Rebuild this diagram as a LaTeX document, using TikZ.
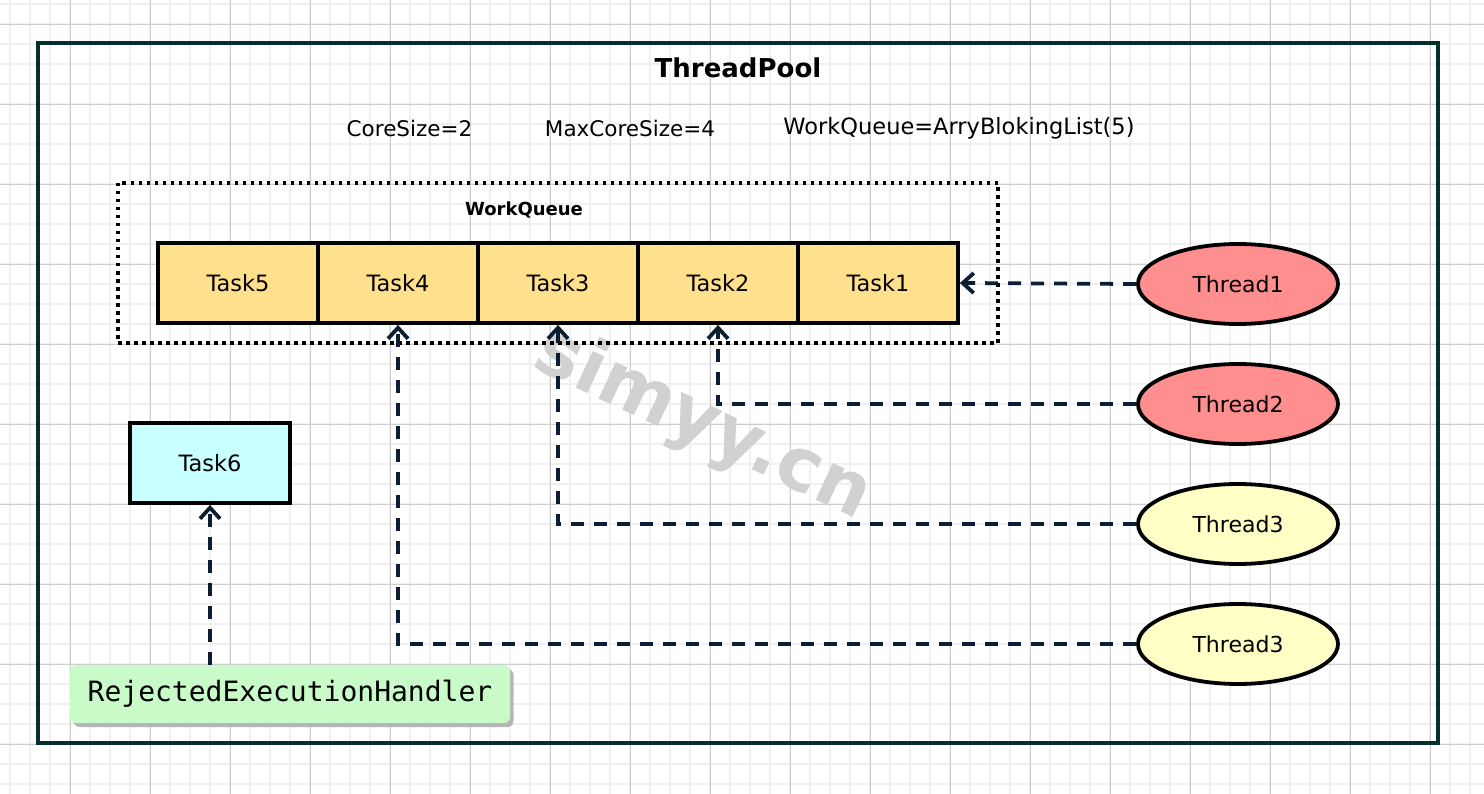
\documentclass[tikz,border=0pt]{standalone}
\usepackage{fontspec}
\setmainfont{DejaVu Sans}
\setmonofont{DejaVu Sans Mono}
\usetikzlibrary{arrows.meta,shapes.geometric,shadows}
\definecolor{framec}{HTML}{03302F}
\definecolor{arrowc}{HTML}{0B1E33}
\definecolor{taskc}{HTML}{FFE08C}
\definecolor{redc}{HTML}{FF8E8E}
\definecolor{yellowc}{HTML}{FFFFC6}
\definecolor{cyanc}{HTML}{C8FFFF}
\definecolor{greenc}{HTML}{C8FBC8}
\definecolor{gridminor}{HTML}{F0F0F0}
\definecolor{gridmajor}{HTML}{CCCCCC}
\tikzset{
  gminor/.style={draw=gridminor,line width=1.2pt},
  gmajor/.style={draw=gridmajor,line width=0.9pt},
  pool/.style={draw=framec,line width=3.5pt,minimum width=1400,minimum height=700,inner sep=0},
  queuebox/.style={draw=black,line width=3.5pt,dash pattern=on 3.5pt off 4.5pt,minimum width=880,minimum height=160,inner sep=0},
  taskbox/.style={draw=black,line width=3.8pt,fill=taskc,minimum width=160,minimum height=80,inner sep=0,font=\fontsize{22.5}{26}\selectfont},
  thread/.style={ellipse,draw=black,line width=3.8pt,minimum width=200,minimum height=80,inner sep=0,font=\fontsize{22}{26}\selectfont},
  param/.style={font=\fontsize{21.5}{25}\selectfont,inner sep=0},
  arr/.style={draw=arrowc,line width=3.8pt,dash pattern=on 13pt off 10pt,-{Straight Barb[length=11pt,width=20pt,line width=3.8pt]}},
}
\begin{document}
\begin{tikzpicture}[x=1pt,y=-1pt]
\useasboundingbox (0,0) rectangle (1484,794);
\fill[white] (0,0) rectangle (1484,794);
% grid
\foreach \x in {10,30,...,1490} {\draw[gminor] (\x,0) -- (\x,794);}
\foreach \y in {4,24,...,800} {\draw[gminor] (0,\y) -- (1484,\y);}
\foreach \x in {70,150,...,1490} {\draw[gmajor] (\x,0) -- (\x,794);}
\foreach \y in {24,104,...,800} {\draw[gmajor] (0,\y) -- (1484,\y);}
% frame
\node[pool] (pool) at (738,393) {};
\node[font=\bfseries\fontsize{26}{30}\selectfont] (title) at (738,68) {ThreadPool};
\node[param] (p1) at (409.5,128) {CoreSize=2};
\node[param] (p2) at (630,128) {MaxCoreSize=4};
\node[param,font=\fontsize{22.5}{26}\selectfont] (p3) at (959,128) {WorkQueue=ArryBlokingList(5)};
% watermark
\node[text=black!18,font=\bfseries\fontsize{74}{80}\selectfont,rotate=-25] (wm) at (703,425) {simyy.cn};
% work queue
\node[queuebox] (wq) at (558,263) {};
\node[font=\bfseries\fontsize{18}{20}\selectfont] (wql) at (524,210) {WorkQueue};
\node[taskbox] (t5) at (238,283) {\raisebox{-3pt}{Task5}};
\node[taskbox] (t4) at (398,283) {\raisebox{-3pt}{Task4}};
\node[taskbox] (t3) at (558,283) {\raisebox{-3pt}{Task3}};
\node[taskbox] (t2) at (718,283) {\raisebox{-3pt}{Task2}};
\node[taskbox] (t1) at (878,283) {\raisebox{-3pt}{Task1}};
% threads
\node[thread,fill=redc] (th1) at (1238,284) {\raisebox{-3pt}{Thread1}};
\node[thread,fill=redc] (th2) at (1238,404) {\raisebox{-3pt}{Thread2}};
\node[thread,fill=yellowc] (th3) at (1238,524) {\raisebox{-3pt}{Thread3}};
\node[thread,fill=yellowc] (th4) at (1238,644) {\raisebox{-3pt}{Thread3}};
% task6 and handler
\node[taskbox,fill=cyanc] (t6) at (210,463) {\raisebox{-2pt}{Task6}};
\node[fill=greenc,rounded corners=6pt,minimum width=440,minimum height=58,inner sep=0,
      font=\ttfamily\fontsize{28}{32}\selectfont,
      drop shadow={shadow xshift=3.5pt,shadow yshift=-4pt,fill=black!35,opacity=0.8}] (reh) at (290,694) {RejectedExecutionHandler};
% arrows
\draw[arr] (th1.west) -- (t1.east);
\draw[arr] (th2.west) -| (t2.south);
\draw[arr] (th3.west) -| (t3.south);
\draw[arr] (th4.west) -| (t4.south);
\draw[arr] (t6.south |- reh.north) -- (t6.south);
\end{tikzpicture}
\end{document}
